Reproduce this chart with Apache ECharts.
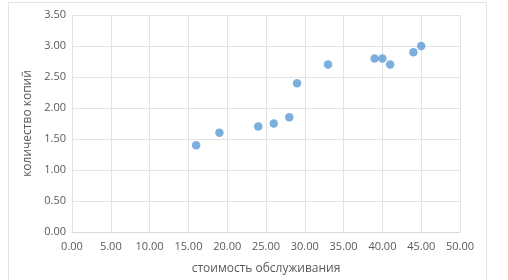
<!DOCTYPE html>
<html><head><meta charset="utf-8">
<script src="https://cdn.jsdelivr.net/npm/echarts@6/dist/echarts.min.js"></script>
<style>html,body{margin:0;padding:0;background:#fff}#c{width:508px;height:280px}</style>
</head><body><div id="c"></div>
<script>
const xValues = [16, 19, 24, 26, 28, 29, 33, 39, 40, 41, 44, 45];
const yValues = [1.4, 1.6, 1.7, 1.75, 1.85, 2.4, 2.7, 2.8, 2.8, 2.7, 2.9, 3.0];
const xTitle = 'стоимость обслуживания';
const yTitle = 'количество копий';

const chart = echarts.init(document.getElementById('c'));
const font = 'Open Sans';
chart.setOption({
  animation: false,
  graphic: [{type:'rect', shape:{x:8.5,y:2.5,width:478,height:290}, style:{fill:'none', stroke:'#e3e3e3', lineWidth:1}, silent:true}],
  grid: {left:72, right:48, top:15, bottom:48},
  xAxis: {
    type:'value', min:0, max:50, interval:5,
    name: xTitle, nameLocation:'middle', nameGap:31,
    nameTextStyle:{color:'#595959', fontSize:12, fontFamily:font},
    axisLine:{show:true, lineStyle:{color:'#d9d9d9'}},
    axisTick:{show:false},
    splitLine:{show:true, lineStyle:{color:'#e3e3e3'}},
    axisLabel:{color:'#595959', fontSize:11, fontFamily:font, margin:9, formatter:v=>v.toFixed(2)}
  },
  yAxis: {
    type:'value', min:0, max:3.5, interval:0.5,
    name: yTitle, nameLocation:'middle', nameGap:36,
    nameTextStyle:{color:'#595959', fontSize:12, fontFamily:font},
    axisLine:{show:false}, axisTick:{show:false},
    splitLine:{show:true, lineStyle:{color:'#e3e3e3'}},
    axisLabel:{color:'#595959', fontSize:11, fontFamily:font, margin:6, formatter:v=>v.toFixed(2)}
  },
  series: [{
    type:'scatter', symbolSize:8.5,
    itemStyle:{color:'#5B9BD5'},
    data: xValues.map((x,i)=>[x, yValues[i]])
  }]
});
</script></body></html>
